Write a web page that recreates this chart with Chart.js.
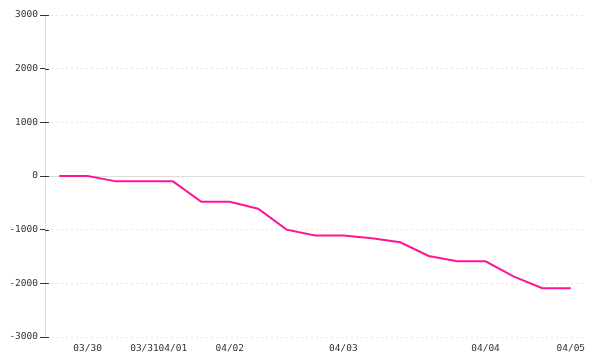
<!DOCTYPE html>
<html>
<head>
<meta charset="utf-8">
<script src="https://cdn.jsdelivr.net/npm/chart.js@4"></script>
<style>
  html, body { margin: 0; padding: 0; background: #fff; }
  #wrap { width: 600px; height: 360px; }
</style>
</head>
<body>
<div id="wrap"><canvas id="myLineChart"></canvas></div>
<script>
// x labels: only the first point of each day gets a date
var labels = ['', '03/30', '', '03/31', '04/01', '', '04/02', '', '', '', '04/03', '', '', '', '', '04/04', '', '', '04/05'];
var values = [0, 0, -100, -100, -100, -480, -480, -610, -1000, -1110, -1110, -1160, -1235, -1490, -1590, -1590, -1875, -2090, -2090];
var yTicks = [-3000, -2000, -1000, 0, 1000, 2000, 3000];

// solid zero line and short dark tick marks across the y axis
var extraLines = {
  id: 'extraLines',
  beforeDatasetsDraw: function (chart) {
    var ctx = chart.ctx;
    var y = chart.scales.y;
    var area = chart.chartArea;
    ctx.save();
    ctx.lineWidth = 1;
    ctx.strokeStyle = '#dddddd';
    var zy = Math.round(y.getPixelForValue(0)) + 0.5;
    ctx.beginPath();
    ctx.moveTo(area.left, zy);
    ctx.lineTo(area.right, zy);
    ctx.stroke();
    ctx.strokeStyle = '#333333';
    yTicks.forEach(function (v) {
      var py = Math.round(y.getPixelForValue(v)) + 0.5;
      ctx.beginPath();
      ctx.moveTo(area.left, py);
      ctx.lineTo(area.left + 4, py);
      ctx.stroke();
    });
    ctx.restore();
  }
};

var tickFont = { family: 'DejaVu Sans Mono', size: 9.5 };

var ctx = document.getElementById('myLineChart').getContext('2d');
var chart = new Chart(ctx, {
  type: 'line',
  data: {
    labels: labels,
    datasets: [{
      data: values,
      borderColor: '#ff1493',
      borderWidth: 2,
      pointRadius: 0,
      tension: 0,
      fill: false
    }]
  },
  options: {
    responsive: true,
    maintainAspectRatio: false,
    animation: false,
    layout: { padding: { top: 15, right: 15, left: 0, bottom: 0 } },
    plugins: {
      legend: { display: false },
      tooltip: { enabled: false }
    },
    scales: {
      x: {
        offset: true,
        grid: { display: false, drawTicks: false },
        border: { display: false },
        ticks: {
          autoSkip: false,
          maxRotation: 0,
          padding: 6,
          color: '#333',
          font: tickFont
        },
        afterFit: function (s) { s.height = 23; }
      },
      y: {
        min: -3000,
        max: 3000,
        afterBuildTicks: function (s) {
          s.ticks = yTicks.map(function (v) { return { value: v }; });
        },
        grid: {
          color: '#e6e6e6',
          tickColor: '#333',
          tickLength: 5
        },
        border: { display: true, color: '#dddddd', dash: [2, 3] },
        ticks: {
          padding: 2,
          color: '#333',
          font: tickFont,
          callback: function (v) { return String(v); }
        },
        afterFit: function (s) { s.width = 45; }
      }
    }
  },
  plugins: [extraLines]
});
</script>
</body>
</html>
